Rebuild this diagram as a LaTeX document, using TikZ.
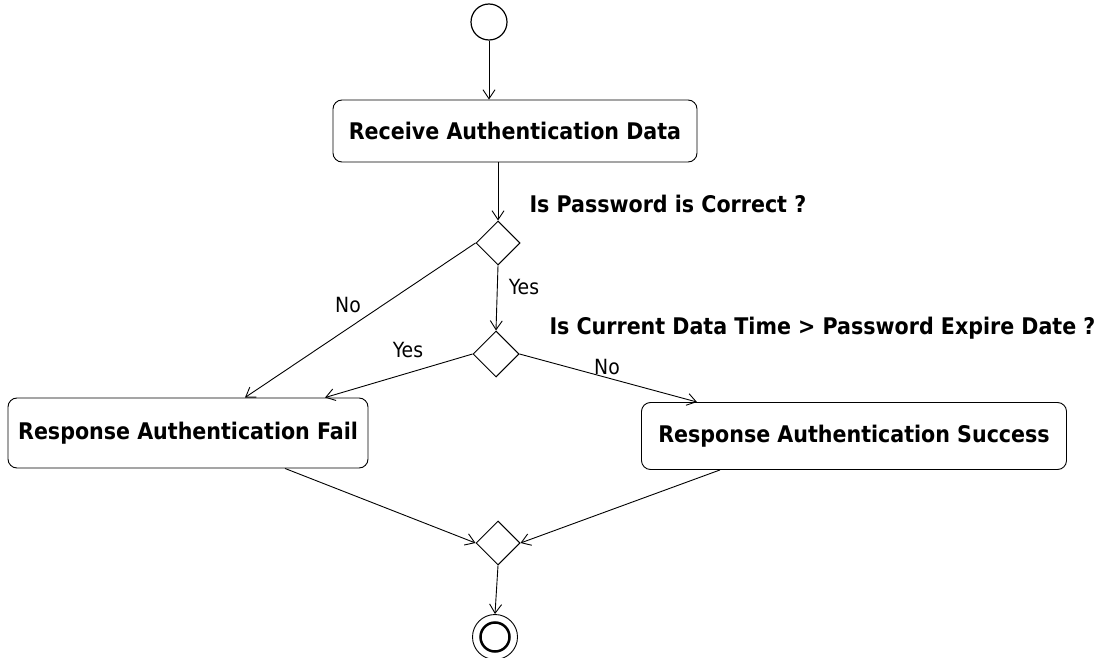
\documentclass[tikz,border=0pt]{standalone}
\usepackage{fontspec}
\setmainfont{DejaVu Sans Condensed}
\usetikzlibrary{shapes.geometric,arrows.meta}

\begin{document}
\begin{tikzpicture}[x=1bp,y=-1bp,
  act/.style={draw,rounded corners=9bp,line width=0.9bp,inner sep=0,
    font=\bfseries\fontsize{23}{27}\selectfont},
  dec/.style={draw,diamond,minimum size=44bp,inner sep=0,line width=1bp},
  flow/.style={-{Straight Barb[length=9bp,width=12bp]},line width=0.9bp},
  guard/.style={font=\fontsize{21}{24}\selectfont},
  ask/.style={anchor=west,font=\bfseries\fontsize{23}{27}\selectfont}]
% Place nodes
\useasboundingbox (0,0) rectangle (1094,658);

\node[draw,circle,minimum size=36bp,line width=1.2bp] (start) at (489,22) {};

\node[act,minimum width=364bp,minimum height=62bp] (receive) at (515,131) {Receive Authentication Data};

\node[dec] (pwd) at (498,243) {};
\node[ask] (pwdq) at (526,204) {Is Password is Correct ?};

\node[dec,minimum size=46bp] (expire) at (496,354) {};
\node[ask] (expq) at (546,328) {Is Current Data Time > Password Expire Date ?};

\node[act,minimum width=360bp,minimum height=70bp] (fail) at (188,433) {Response Authentication Fail};
\node[act,minimum width=425bp,minimum height=67bp] (success) at (854,436) {Response Authentication Success};

\node[dec] (merge) at (498,543) {};

\node[draw,circle,minimum size=45bp,line width=0.9bp] (stop) at (495,637) {};
\draw[line width=2.5bp] (stop.center) circle (14.5); %inner ring

% guards
\node[guard] (no1) at (348,305) {No};
\node[guard] (yes1) at (524,287) {Yes};
\node[guard] (yes2) at (408,350) {Yes};
\node[guard] (no2) at (607,367) {No};

% Connect nodes
\draw[flow] (start.south) -- (start.south |- receive.north);
\draw[flow] (receive.south -| pwd.north) -- (pwd.north);
\draw[flow] (pwd.west) -- ([xshift=57bp]fail.north);
\draw[flow] (pwd.south) -- (expire.north);
\draw[flow] (expire.west) -- ([xshift=137bp]fail.north);
\draw[flow] (expire.east) -- ([xshift=-157bp]success.north);
\draw[flow] ([xshift=97bp]fail.south) -- (merge.west);
\draw[flow] ([xshift=-134bp]success.south) -- (merge.east);
\draw[flow] (merge.south) -- (stop.north);

\end{tikzpicture}
\end{document}
